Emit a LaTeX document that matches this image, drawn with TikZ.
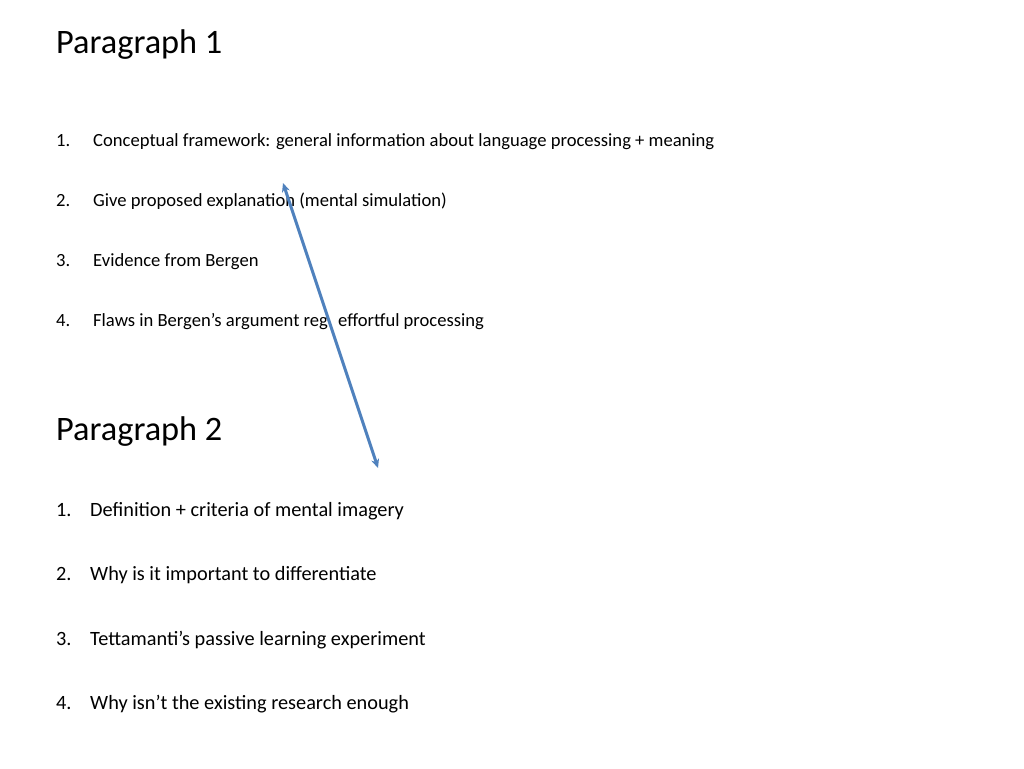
\documentclass[tikz,border=0pt]{standalone}
\usepackage{fontspec}
\setmainfont{Carlito}
\usetikzlibrary{arrows.meta}
\begin{document}
\begin{tikzpicture}[x=1pt,y=-1pt,
  head/.style={anchor=base west,inner sep=0,font=\fontsize{34.3}{38}\selectfont},
  sm/.style={anchor=base west,inner sep=0,font=\fontsize{18.6}{22}\selectfont},
  md/.style={anchor=base west,inner sep=0,font=\fontsize{20.3}{24}\selectfont},
  arr/.style={draw={rgb,255:red,79;green,129;blue,189},line width=3pt,{Stealth[length=9pt,width=8pt]}-{Stealth[length=9pt,width=8pt]}}]
\useasboundingbox (0,0) rectangle (1024,768);
\node[head] (p1) at (56,53) {Paragraph 1};
\node[sm] (a1n) at (56,146) {1.}; \node[sm] (a1) at (93,146) {Conceptual framework: general information about language processing + meaning};
\node[sm] (a2n) at (56,206) {2.}; \node[sm] (a2) at (93,206) {Give proposed explanation (mental simulation)};
\node[sm] (a3n) at (56,266) {3.}; \node[sm] (a3) at (93,266) {Evidence from Bergen};
\node[sm] (a4n) at (56,326) {4.}; \node[sm] (a4) at (93,326) {Flaws in Bergen’s argument reg. effortful processing};
\node[head] (p2) at (56,440) {Paragraph 2};
\node[md] (b1n) at (56,516) {1.}; \node[md] (b1) at (90,516) {Definition + criteria of mental imagery};
\node[md] (b2n) at (56,580) {2.}; \node[md] (b2) at (90,580) {Why is it important to differentiate};
\node[md] (b3n) at (56,645) {3.}; \node[md] (b3) at (90,645) {Tettamanti’s passive learning experiment};
\node[md] (b4n) at (56,709) {4.}; \node[md] (b4) at (90,709) {Why isn’t the existing research enough};
\coordinate (s) at (283,183); \coordinate (e) at (378,468);
\draw[arr] (s) -- (e);
\end{tikzpicture}
\end{document}
